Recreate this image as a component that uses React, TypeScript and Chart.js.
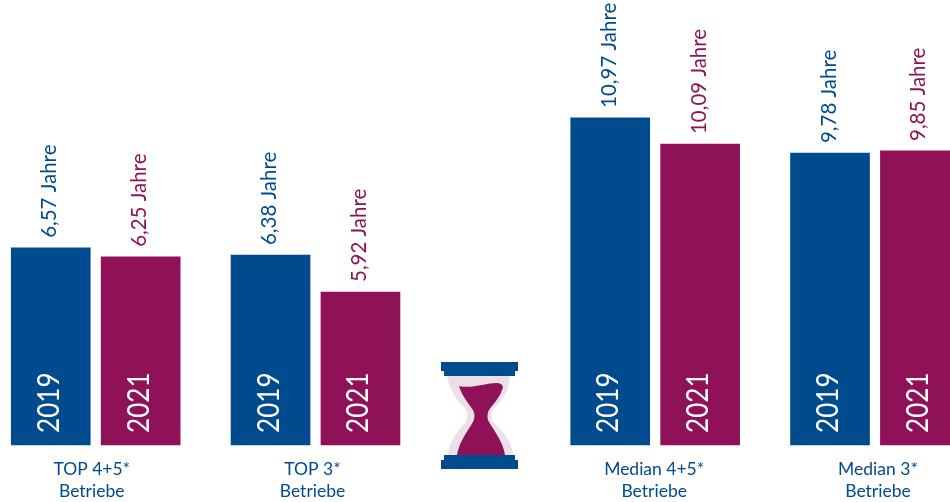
import React, { useEffect, useRef } from "react";
import { Chart, registerables } from "chart.js";

Chart.register(...registerables);

// Data
const years = ["2019", "2021", "2019", "2021", "2019", "2021", "2019", "2021"];
const barHeights = [6.57, 6.27, 6.33, 5.1, 10.9, 10.03, 9.73, 9.8];
const printedValues = ["6,57", "6,25", "6,38", "5,92", "10,97", "10,09", "9,78", "9,85"];
const groupNames = [
  ["TOP 4+5*", "Betriebe"],
  ["TOP 3*", "Betriebe"],
  ["Median 4+5*", "Betriebe"],
  ["Median 3*", "Betriebe"],
];
const unit = "Jahre";

// Layout of the category axis: empty slots in front of and between bars
const emptySlotsBefore = [4, 8, 12, 8, 24, 8, 12, 8];
const emptySlotsAfter = 2;

const BLUE = "#004b8d";
const PURPLE = "#8f1158";
const PALE = "#ecdfe6";
const FONT = "Lato";
const groupLabelShift = [-4, -3, -1, 3];

const labels: string[] = [];
const values: (number | null)[] = [];
const colors: string[] = [];
years.forEach((y, i) => {
  for (let k = 0; k < emptySlotsBefore[i]; k++) {
    labels.push("");
    values.push(null);
    colors.push("transparent");
  }
  labels.push(y);
  values.push(barHeights[i]);
  colors.push(i % 2 === 0 ? BLUE : PURPLE);
});
for (let k = 0; k < emptySlotsAfter; k++) {
  labels.push("");
  values.push(null);
  colors.push("transparent");
}

function drawHourglass(ctx: CanvasRenderingContext2D) {
  ctx.save();
  ctx.translate(441, 362);
  // glass
  ctx.fillStyle = PALE;
  ctx.beginPath();
  ctx.moveTo(6, 14);
  ctx.lineTo(69, 14);
  ctx.bezierCurveTo(68, 30, 60, 40, 53, 46);
  ctx.bezierCurveTo(50, 50, 50, 57, 53, 61);
  ctx.bezierCurveTo(61, 69, 71, 78, 72, 93);
  ctx.lineTo(7, 93);
  ctx.bezierCurveTo(8, 78, 17, 69, 24, 61);
  ctx.bezierCurveTo(27, 57, 27, 50, 24, 46);
  ctx.bezierCurveTo(17, 40, 9, 30, 6, 14);
  ctx.closePath();
  ctx.fill();
  // sand
  ctx.fillStyle = PURPLE;
  ctx.beginPath();
  ctx.moveTo(18, 24);
  ctx.bezierCurveTo(30, 27, 45, 21, 56, 21);
  ctx.bezierCurveTo(59, 21, 61, 22, 62, 25);
  ctx.bezierCurveTo(59, 36, 52, 42, 48, 48);
  ctx.bezierCurveTo(46, 52, 46, 57, 48, 60);
  ctx.bezierCurveTo(54, 70, 62, 80, 64, 93);
  ctx.lineTo(16, 93);
  ctx.bezierCurveTo(18, 80, 26, 70, 32, 60);
  ctx.bezierCurveTo(34, 56, 34, 52, 32, 48);
  ctx.bezierCurveTo(28, 42, 21, 34, 18, 24);
  ctx.closePath();
  ctx.fill();
  // caps
  ctx.fillStyle = BLUE;
  ctx.fillRect(0, 0, 77, 9);
  ctx.fillRect(3, 9, 71, 5);
  ctx.fillRect(3, 93, 71, 5);
  ctx.fillRect(0, 98, 77, 9);
  ctx.restore();
}

const annotations = {
  id: "annotations",
  beforeDatasetsDraw(chart: Chart) {
    drawHourglass(chart.ctx);
  },
  afterDatasetsDraw(chart: Chart) {
    const { ctx } = chart;
    const all = chart.getDatasetMeta(0).data;
    const bars = all.filter((_, i) => values[i] !== null);
    const base = chart.scales.y.getPixelForValue(0);
    bars.forEach((bar: any, i) => {
      const color = i % 2 === 0 ? BLUE : PURPLE;
      // printed value above the bar
      ctx.save();
      ctx.translate(bar.x + 5.5, bar.y - 10);
      ctx.rotate(-Math.PI / 2);
      ctx.font = `400 20.5px ${FONT}`;
      ctx.fillStyle = color;
      ctx.textAlign = "left";
      ctx.textBaseline = "alphabetic";
      ctx.fillText(`${printedValues[i]} ${unit}`, 0, 0);
      ctx.restore();
      // year inside the bar
      ctx.save();
      ctx.translate(bar.x + 8, base - 12);
      ctx.rotate(-Math.PI / 2);
      ctx.scale(0.87, 1);
      ctx.font = `400 30px ${FONT}`;
      ctx.fillStyle = "#ffffff";
      ctx.textAlign = "left";
      ctx.textBaseline = "alphabetic";
      ctx.fillText(years[i], 0, 0);
      ctx.restore();
    });
    // group captions under each pair of bars
    groupNames.forEach((lines, g) => {
      const a: any = bars[g * 2];
      const b: any = bars[g * 2 + 1];
      const cx = (a.x + b.x) / 2 + groupLabelShift[g];
      ctx.save();
      ctx.font = `17.5px ${FONT}`;
      ctx.fillStyle = BLUE;
      ctx.textAlign = "center";
      ctx.textBaseline = "alphabetic";
      lines.forEach((line, l) => ctx.fillText(line, cx, base + 30 + l * 22));
      ctx.restore();
    });
  },
};

export default function App() {
  const ref = useRef<HTMLCanvasElement>(null);
  useEffect(() => {
    const chart = new Chart(ref.current!, {
      type: "bar",
      data: {
        labels,
        datasets: [
          {
            data: values,
            backgroundColor: colors,
            borderWidth: 0,
            barThickness: 79,
            clip: false,
          },
        ],
      },
      options: {
        animation: false,
        responsive: false,
        devicePixelRatio: 1,
        layout: { padding: { left: 5.8, right: 5.1, top: 0, bottom: 57 } },
        plugins: { legend: { display: false }, tooltip: { enabled: false } },
        scales: {
          x: { display: false },
          y: { display: false, min: 0, max: 14.83 },
        },
      },
      plugins: [annotations],
    } as any);
    return () => chart.destroy();
  }, []);
  return (
    <div style={{ position: "absolute", left: 0, top: 0, width: 950, height: 502, background: "#fff" }}>
      <canvas ref={ref} width={950} height={502} style={{ display: "block" }} />
    </div>
  );
}
